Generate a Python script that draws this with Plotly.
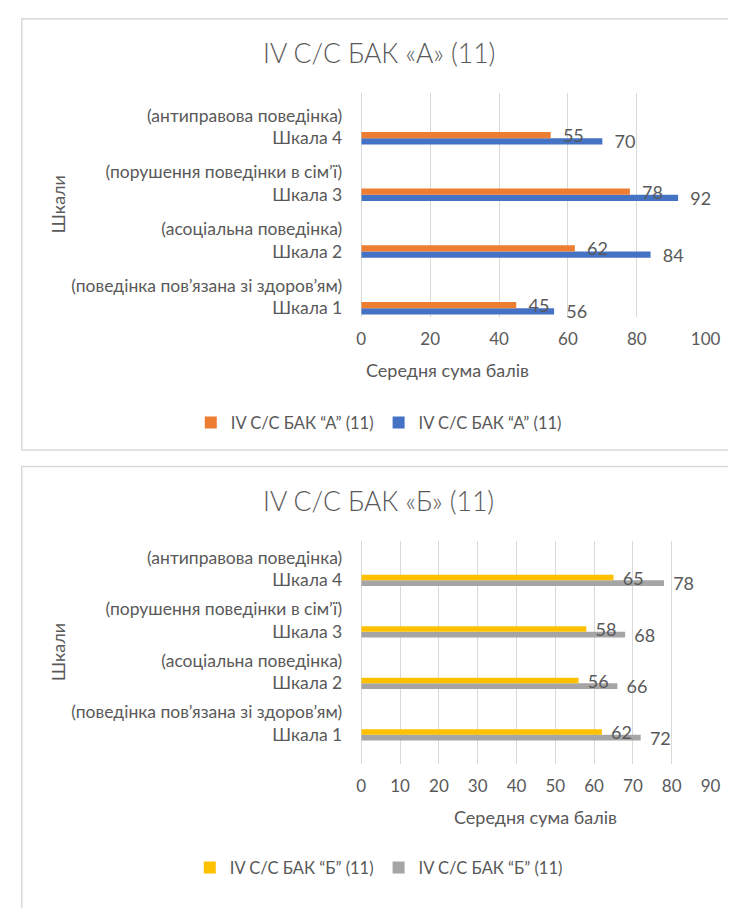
import plotly.graph_objects as go

W, H = 736, 908

categories = ["Шкала 1", "Шкала 2", "Шкала 3", "Шкала 4"]
descriptions = [
    "(поведінка пов’язана зі здоров’ям)",
    "(асоціальна поведінка)",
    "(порушення поведінки в сім’ї)",
    "(антиправова поведінка)",
]

title_a = "IV С/С БАК «А» (11)"
series_a_name = "IV С/С БАК “А” (11)"
series_a_orange = [45, 62, 78, 55]
series_a_blue = [56, 84, 92, 70]

title_b = "IV С/С БАК «Б» (11)"
series_b_name = "IV С/С БАК “Б” (11)"
series_b_yellow = [62, 56, 58, 65]
series_b_gray = [72, 66, 68, 78]

x_ticks_a = [0, 20, 40, 60, 80, 100]
x_ticks_b = [0, 10, 20, 30, 40, 50, 60, 70, 80, 90]

x_title = "Середня сума балів"
y_title = "Шкали"

FONT = "Lato, 'Noto Sans', sans-serif"
FONT_LIGHT = "'Lato Light', Lato, 'Noto Sans', sans-serif"
GREY_TXT = "#595959"
GRID = "#D9D9D9"

def px(x):
    return x / W

def py(y):
    return 1 - y / H

tick_text = [f"{d}<br>{c}<br> " for d, c in zip(descriptions, categories)]

fig = go.Figure()

lab_font = dict(family=FONT, size=18, color=GREY_TXT)

def add_bar(vals, name, color, xa, ya, legend):
    fig.add_trace(go.Bar(
        y=categories, x=vals, orientation="h", name=name,
        marker=dict(color=color, line=dict(width=0)),
        text=vals, texttemplate="\u00a0\u00a0%{x}", textposition="outside",
        textfont=lab_font, constraintext="none", cliponaxis=False,
        xaxis=xa, yaxis=ya, legend=legend, hoverinfo="skip",
    ))

# first trace of a group sits lowest in horizontal bars
add_bar(series_a_blue, series_a_name, "#4472C4", "x", "y", "legend")
add_bar(series_a_orange, series_a_name, "#ED7D31", "x", "y", "legend")
add_bar(series_b_gray, series_b_name, "#A5A5A5", "x2", "y2", "legend2")
add_bar(series_b_yellow, series_b_name, "#FFC000", "x2", "y2", "legend2")

ytick_font = dict(family=FONT, size=17.5, color=GREY_TXT)
xtick_font = dict(family=FONT, size=17, color=GREY_TXT)

xcommon = dict(showgrid=True, gridcolor=GRID, gridwidth=1, zeroline=True,
               zerolinecolor=GRID, zerolinewidth=1, showline=False,
               tickfont=xtick_font, ticks="", ticklabelstandoff=10, fixedrange=True)
ycommon = dict(type="category", showgrid=False, zeroline=False, showline=False,
               tickvals=categories, ticktext=tick_text, tickfont=ytick_font,
               ticks="", ticklabelstandoff=18, fixedrange=True)

leg_font = dict(family=FONT, size=16.5, color=GREY_TXT)

fig.update_layout(
    width=W, height=H,
    margin=dict(l=0, r=0, t=0, b=0),
    paper_bgcolor="white", plot_bgcolor="white",
    barmode="group", bargap=0.78, bargroupgap=0,
    font=dict(family=FONT, color=GREY_TXT),
    showlegend=True,
    xaxis=dict(domain=[px(358), px(712)], range=[0, 100], tickvals=x_ticks_a,
               anchor="y", **xcommon),
    yaxis=dict(domain=[py(317), py(87)], range=[-0.149, 3.802], anchor="x", **ycommon),
    xaxis2=dict(domain=[px(358), px(717)], range=[0, 90], tickvals=x_ticks_b,
                anchor="y2", **xcommon),
    yaxis2=dict(domain=[py(777), py(547)], range=[-0.575, 3.773], anchor="x2", **ycommon),
    legend=dict(orientation="h", x=px(376), y=py(426), xanchor="center", yanchor="middle",
                traceorder="reversed", font=leg_font,
                itemwidth=30, bgcolor="rgba(0,0,0,0)"),
    legend2=dict(orientation="h", x=px(376), y=py(883), xanchor="center", yanchor="middle",
                 traceorder="reversed", font=leg_font,
                 itemwidth=30, bgcolor="rgba(0,0,0,0)"),
)

title_font = dict(family=FONT_LIGHT, size=26.5, color=GREY_TXT)
axis_title_font = dict(family=FONT, size=18, color=GREY_TXT)

annotations = [
    dict(text=title_a, x=px(376), y=py(46), font=title_font),
    dict(text=title_b, x=px(376), y=py(506), font=title_font),
    dict(text=x_title, x=px(447), y=py(372), font=axis_title_font),
    dict(text=x_title, x=px(537), y=py(831), font=axis_title_font),
    dict(text=y_title, x=px(46), y=py(202), font=axis_title_font, textangle=-90),
    dict(text=y_title, x=px(46), y=py(662), font=axis_title_font, textangle=-90),
]
for a in annotations:
    fig.add_annotation(xref="paper", yref="paper", showarrow=False,
                       xanchor="center", yanchor="middle", **a)

fig.add_shape(type="rect", xref="paper", yref="paper", x0=px(9), x1=px(760),
              y0=py(454), y1=py(11), line=dict(color=GRID, width=1.5), layer="below")
fig.add_shape(type="rect", xref="paper", yref="paper", x0=px(9), x1=px(760),
              y0=py(940), y1=py(471), line=dict(color=GRID, width=1.5), layer="below")

fig.write_html("out.html")
